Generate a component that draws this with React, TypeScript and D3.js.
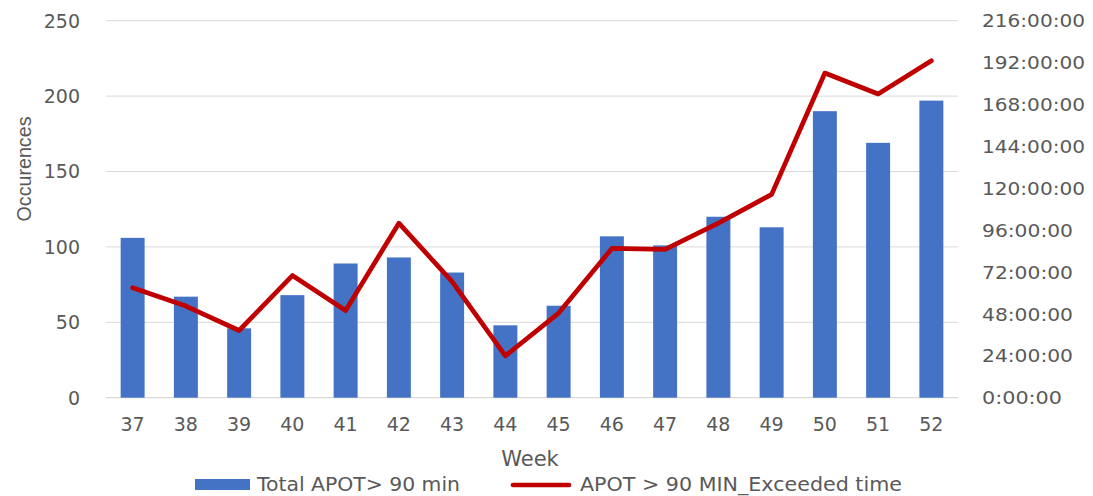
import React from "react";
import * as d3 from "d3";

const weeks = ["37","38","39","40","41","42","43","44","45","46","47","48","49","50","51","52"];
const totalApot = [106, 67, 46, 68, 89, 93, 83, 48, 61, 107, 101, 120, 113, 190, 169, 197];
// exceeded time in hours
const exceededHours = [63, 52.5, 38.5, 70, 50, 100, 66.5, 24, 48.5, 85.5, 85, 100, 116.5, 186, 174, 193];
const leftTicks = [0, 50, 100, 150, 200, 250];
const rightTicks = [0, 24, 48, 72, 96, 120, 144, 168, 192, 216];

const W = 1093, H = 496;
const plotL = 106, plotR = 958, plotT = 20.7, plotB = 397.7;
const FONT = "'DejaVu Sans', sans-serif";
const TXT = "#595959";

export default function App() {
  const x = d3.scaleBand<string>().domain(weeks).range([plotL, plotR]).paddingInner(0.55).paddingOuter(0.275);
  const yL = d3.scaleLinear().domain([0, 250]).range([plotB, plotT]);
  const yR = d3.scaleLinear().domain([0, 216]).range([plotB, plotT]);
  const line = d3.line<number>()
    .x((_, i) => (x(weeks[i]) as number) + x.bandwidth() / 2)
    .y((d) => yR(d));
  const fmt = (h: number) => `${h}:00:00`;

  return (
    <svg width={W} height={H} style={{ position: "absolute", left: 0, top: 0, background: "#fff" }}>
      {leftTicks.map((t) => (
        <line key={"g" + t} x1={plotL} x2={plotR} y1={yL(t)} y2={yL(t)} stroke={t === 0 ? "#d0d0d0" : "#d9d9d9"} strokeWidth={1} />
      ))}
      {leftTicks.map((t) => (
        <text key={"l" + t} x={80} y={yL(t)} dy="0.36em" textAnchor="end" fontFamily={FONT} fontSize={19} fill={TXT}>{t}</text>
      ))}
      {rightTicks.map((t) => (
        <text key={"r" + t} x={982} y={yR(t)} dy="0.36em" textAnchor="start" fontFamily={FONT} fontSize={18.5} fill={TXT} textLength={t >= 100 ? 103 : t === 0 ? 80 : 91} lengthAdjust="spacingAndGlyphs">{fmt(t)}</text>
      ))}
      {weeks.map((w, i) => (
        <rect key={"b" + w} x={x(w)} y={yL(totalApot[i])} width={x.bandwidth()} height={plotB - yL(totalApot[i])} fill="#4472C4" />
      ))}
      <path d={line(exceededHours) || ""} fill="none" stroke="#C00000" strokeWidth={4.7} strokeLinejoin="round" strokeLinecap="round" />
      {weeks.map((w) => (
        <text key={"x" + w} x={(x(w) as number) + x.bandwidth() / 2} y={431} textAnchor="middle" fontFamily={FONT} fontSize={19} fill={TXT}>{w}</text>
      ))}
      <text x={530} y={466} textAnchor="middle" fontFamily={FONT} fontSize={21} fill={TXT}>Week</text>
      <text transform="translate(31,169) rotate(-90)" textAnchor="middle" fontFamily="'Liberation Sans', sans-serif" fontSize={20} fill={TXT} textLength={105} lengthAdjust="spacingAndGlyphs">Occurences</text>
      <rect x={195} y={479} width={55} height={11} fill="#4472C4" />
      <text x={257} y={491} fontFamily={FONT} fontSize={19} fill={TXT} textLength={203} lengthAdjust="spacingAndGlyphs">Total APOT&gt; 90 min</text>
      <line x1={513} x2={569} y1={485} y2={485} stroke="#C00000" strokeWidth={4.7} strokeLinecap="round" />
      <text x={580} y={491} fontFamily={FONT} fontSize={19} fill={TXT} textLength={322} lengthAdjust="spacingAndGlyphs">APOT &gt; 90 MIN_Exceeded time</text>
    </svg>
  );
}
